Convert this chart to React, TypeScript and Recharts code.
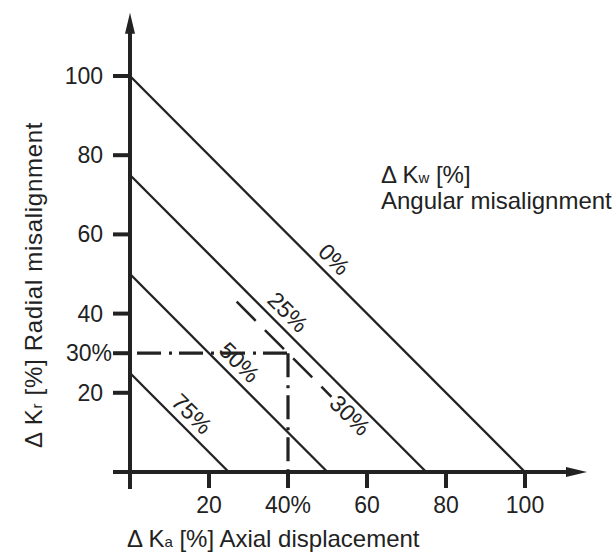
import React from "react";
import {
  LineChart,
  Line,
  XAxis,
  YAxis,
  ReferenceLine,
  ReferenceDot,
} from "recharts";

const INK = "#222";
const FONT = "'Liberation Sans', Arial, sans-serif";

const X_TICKS = [20, 40, 60, 80, 100];
const Y_TICKS = [20, 30, 40, 60, 80, 100];
const X_TICK_LABELS: Record<number, string> = { 40: "40%" };
const Y_TICK_LABELS: Record<number, string> = { 30: "30%" };

// angular misalignment lines, where each one meets the radial / axial axis
const ANGULAR_LEVELS = ["0%", "25%", "50%", "75%"];
const RADIAL_AT_ZERO = [100, 75, 50, 25];
const AXIAL_AT_ZERO = [100, 75, 50, 25];
// axial value along each line where its label sits
const LABEL_AXIAL = [49, 37.3, 25, 13];

// worked example: 30% angular, 40% axial, 30% radial
const EXAMPLE_LEVEL = "30%";
const EXAMPLE_AXIAL = [27, 51];
const EXAMPLE_RADIAL = [43, 19];
const EXAMPLE_LABEL = { x: 55.7, y: 14.3 };
const EXAMPLE_POINT = { x: 40, y: 30 };

// axis extents beyond the 0..100 range (arrows)
const AXIS_MIN = -4.3;
const AXIS_MAX = 116;

function ArrowAxis(props: any) {
  const { x1, y1, x2, y2 } = props;
  const dx = x2 - x1;
  const dy = y2 - y1;
  const len = Math.hypot(dx, dy) || 1;
  const ux = dx / len;
  const uy = dy / len;
  const head = 21;
  const half = 5;
  const bx = x2 - ux * head;
  const by = y2 - uy * head;
  return (
    <g>
      <line
        x1={x1}
        y1={y1}
        x2={bx + ux * 2}
        y2={by + uy * 2}
        stroke={INK}
        strokeWidth={4}
      />
      <polygon
        points={`${x2},${y2} ${bx - uy * half},${by + ux * half} ${bx + uy * half},${by - ux * half}`}
        fill={INK}
      />
    </g>
  );
}

function XTick(props: any) {
  const { x, y, payload } = props;
  const v = payload.value;
  return (
    <text
      x={x}
      y={y}
      dy="0.71em"
      textAnchor="middle"
      fill={INK}
      fontSize={23}
      fontFamily={FONT}
    >
      {X_TICK_LABELS[v] ?? String(v)}
    </text>
  );
}

function YTick(props: any) {
  const { x, y, payload } = props;
  const v = payload.value;
  const special = Y_TICK_LABELS[v];
  return (
    <text
      x={special ? x + 9 : x}
      y={y}
      textAnchor="end"
      dominantBaseline="central"
      fill={INK}
      fontSize={23}
      fontFamily={FONT}
    >
      {special ?? String(v)}
    </text>
  );
}

const lineLabel = (text: string, offset: number) => (p: any) => {
  const cx = p.cx + offset * Math.SQRT1_2;
  const cy = p.cy - offset * Math.SQRT1_2;
  return (
    <text
      x={cx}
      y={cy}
      transform={`rotate(45 ${cx} ${cy})`}
      textAnchor="middle"
      dominantBaseline="central"
      fill={INK}
      fontSize={23}
      fontFamily={FONT}
    >
      {text}
    </text>
  );
};

export default function App() {
  return (
    <div style={{ position: "absolute", left: 0, top: 0, width: 615, height: 552, background: "#fff" }}>
      <LineChart
        width={615}
        height={552}
        margin={{ top: 76, right: 90, left: 70, bottom: 50 }}
      >
        <XAxis
          type="number"
          dataKey="x"
          domain={[0, 100]}
          ticks={X_TICKS}
          interval={0}
          tickSize={16}
          tickMargin={9}
          height={30}
          axisLine={false}
          tickLine={{ stroke: INK, strokeWidth: 4 }}
          tick={XTick}
        />
        <YAxis
          type="number"
          domain={[0, 100]}
          ticks={Y_TICKS}
          interval={0}
          tickSize={17}
          tickMargin={10}
          width={60}
          axisLine={false}
          tickLine={{ stroke: INK, strokeWidth: 4 }}
          tick={YTick}
        />

        {ANGULAR_LEVELS.map((lvl, i) => (
          <Line
            key={lvl}
            data={[
              { x: 0, y: RADIAL_AT_ZERO[i] },
              { x: AXIAL_AT_ZERO[i], y: 0 },
            ]}
            dataKey="y"
            stroke={INK}
            strokeWidth={2.3}
            dot={false}
            activeDot={false}
            isAnimationActive={false}
          />
        ))}

        <Line
          data={[
            { x: EXAMPLE_AXIAL[0], y: EXAMPLE_RADIAL[0] },
            { x: EXAMPLE_AXIAL[1], y: EXAMPLE_RADIAL[1] },
          ]}
          dataKey="y"
          stroke={INK}
          strokeWidth={2.5}
          strokeDasharray="27 13"
          dot={false}
          activeDot={false}
          isAnimationActive={false}
        />

        <Line
          data={[
            { x: 0, y: EXAMPLE_POINT.y },
            { x: EXAMPLE_POINT.x, y: EXAMPLE_POINT.y },
          ]}
          dataKey="y"
          stroke={INK}
          strokeWidth={3.2}
          strokeDasharray="24 8 3 7"
          strokeDashoffset={-7}
          dot={false}
          activeDot={false}
          isAnimationActive={false}
        />
        <Line
          data={[
            { x: EXAMPLE_POINT.x, y: EXAMPLE_POINT.y },
            { x: EXAMPLE_POINT.x, y: 0 },
          ]}
          dataKey="y"
          stroke={INK}
          strokeWidth={3.2}
          strokeDasharray="24 8 3 7"
          dot={false}
          activeDot={false}
          isAnimationActive={false}
        />

        <ReferenceLine
          segment={[
            { x: 0, y: AXIS_MIN },
            { x: 0, y: AXIS_MAX },
          ]}
          ifOverflow="visible"
          shape={ArrowAxis}
        />
        <ReferenceLine
          segment={[
            { x: AXIS_MIN, y: 0 },
            { x: AXIS_MAX - 0.3, y: 0 },
          ]}
          ifOverflow="visible"
          shape={ArrowAxis}
        />

        {ANGULAR_LEVELS.map((lvl, i) => (
          <ReferenceDot
            key={"lbl" + lvl}
            x={LABEL_AXIAL[i]}
            y={RADIAL_AT_ZERO[i] - (RADIAL_AT_ZERO[i] / AXIAL_AT_ZERO[i]) * LABEL_AXIAL[i]}
            r={0}
            ifOverflow="visible"
            shape={lineLabel(lvl, 15)}
          />
        ))}
        <ReferenceDot
          x={EXAMPLE_LABEL.x}
          y={EXAMPLE_LABEL.y}
          r={0}
          ifOverflow="visible"
          shape={lineLabel(EXAMPLE_LEVEL, 0)}
        />

        <text x={381} y={183} fill={INK} fontSize={24} fontFamily={FONT}>
          Δ K<tspan fontSize={15}>w</tspan> [%]
        </text>
        <text x={381} y={208.5} fill={INK} fontSize={24} fontFamily={FONT}>
          Angular misalignment
        </text>
        <text x={127} y={547} fill={INK} fontSize={24} fontFamily={FONT}>
          Δ K<tspan fontSize={15}>a</tspan> [%] Axial displacement
        </text>
        <text
          x={41.5}
          y={448}
          transform="rotate(-90 41.5 448)"
          fill={INK}
          fontSize={24}
          fontFamily={FONT}
          letterSpacing={0.7}
        >
          Δ K<tspan fontSize={15}>r</tspan> [%] Radial misalignment
        </text>
      </LineChart>
    </div>
  );
}
